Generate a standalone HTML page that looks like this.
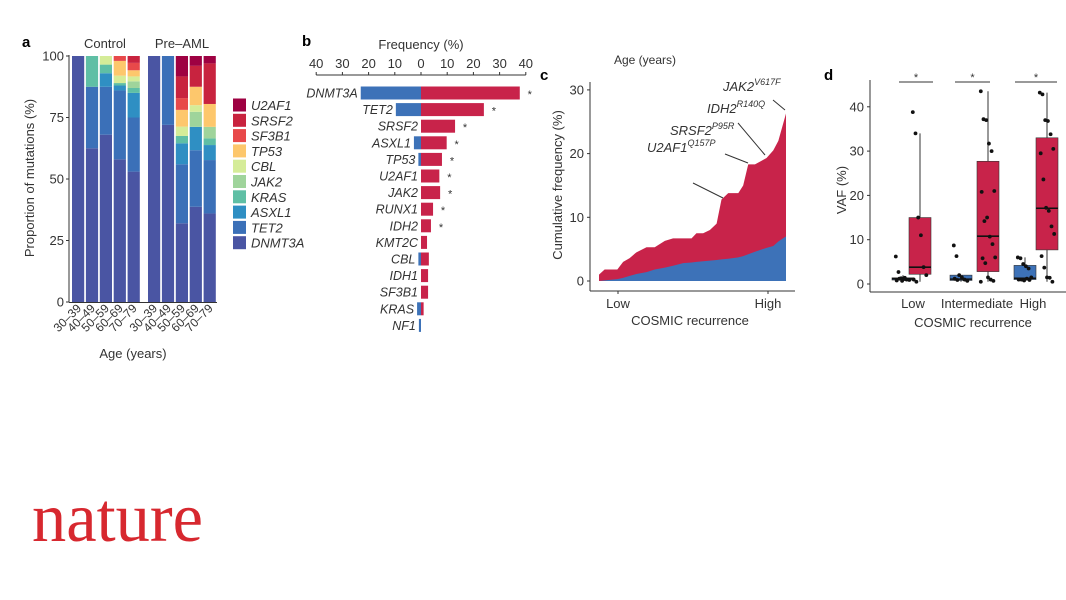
<!DOCTYPE html>
<html><head><meta charset="utf-8"><style>
html,body{margin:0;padding:0;background:#fff}
svg{display:block;font-family:"Liberation Sans",sans-serif}
</style></head><body>
<svg id="fig" width="1066" height="600" viewBox="0 0 1066 600" xmlns="http://www.w3.org/2000/svg">
<g id="pa"></g>
<g id="pb"></g>
<g id="pc"></g>
<g id="pd"></g>
<text x="32" y="541" font-family="Liberation Serif, serif" font-size="70" fill="#d7282f" textLength="171" lengthAdjust="spacingAndGlyphs">nature</text>
</svg>
<script>
// ---------- Panel a data ----------
const aGenes = ["DNMT3A","TET2","ASXL1","KRAS","JAK2","CBL","TP53","SF3B1","SRSF2","U2AF1"];
const aColors = ["#4a55a3","#3b70b8","#2f8fc3","#5fbfa5","#9fd49b","#d5ec98","#fdc76c","#e8494a","#c8233f","#9e0142"];
const aAges = ["30–39","40–49","50–59","60–69","70–79"];
const aControl = [
 [100,0,0,0,0,0,0,0,0,0],
 [62.5,25,0,12.5,0,0,0,0,0,0],
 [68,19.5,5.5,3.5,0,3.5,0,0,0,0],
 [58,28,2,1,0,3,6,2,0,0],
 [53,22,10,2,2.7,2,2.5,3,3,0]];
const aPreAML = [
 [100,0,0,0,0,0,0,0,0,0],
 [72,28,0,0,0,0,0,0,0,0],
 [32,24,8.5,3,0,3.8,6.8,4.8,8.8,8.4],
 [38.7,23,9.5,0,6.1,2.7,7.5,0,8.5,4],
 [36,21.7,6.1,2.7,4.7,0,9.3,0,16.5,3]];
const aTicks = [0,25,50,75,100];

// ---------- Panel b data ----------
const bGenes = ["DNMT3A","TET2","SRSF2","ASXL1","TP53","U2AF1","JAK2","RUNX1","IDH2","KMT2C","CBL","IDH1","SF3B1","KRAS","NF1"];
const bPreAML = [37.7,24,13,9.8,8,7,7.3,4.6,3.8,2.3,3,2.7,2.7,1,0];
const bControl = [23,9.6,0,2.7,1,0,0,0,0,0,1,0,0,1.5,0.8];
const bSig = [1,1,1,1,1,1,1,1,1,0,0,0,0,0,0];
const bTicks = [40,30,20,10,0,10,20,30,40];

// ---------- Panel c data ----------
const cRank = [0,3,9.8,12.9,16.4,20,25.4,29.8,35.2,39.6,45,49.5,52.1,55.7,59.3,62.9,65.5,69.1,74.5,77.1,79.8,83.4,89.6,93.2,95.9,100];
const cTotal = [1,1.8,1.8,3,3.6,4.5,5.3,5.3,6.3,6.7,6.7,6.7,7.5,7.5,8,9,12.8,13.8,13.8,15,18.3,18.3,19.3,20.5,22,26.3];
const cControl = [0,0.1,0.3,0.5,0.8,1.1,1.4,1.8,2.1,2.4,2.8,2.9,3,3.1,3.2,3.3,3.4,3.5,3.7,3.9,4.2,4.6,5.2,5.5,6.2,7];
const cTicks = [0,10,20,30];

// ---------- Panel d data ----------
const dGroups = ["Low","Intermediate","High"];
const dStatsControl = [[0.6,0.9,1.2,1.4,2],[0.5,0.8,1.1,2,2],[0.5,1,1.3,4.2,6]];
const dStatsPre = [[0.5,2.2,3.8,15,34],[0.5,2.8,10.8,27.7,43.5],[0.5,7.7,17.1,33,43.2]];
const dPtsControl = [[6.2,2.7,1.3,1.1,1,0.9,0.8,1.2,0.7,1.4],[8.7,6.3,2,1.5,1,0.7,1.2,0.9],[6,5.8,4.5,4,3.5,1.5,1,1,0.8,1.2,0.9]];
const dPtsPre = [[38.8,34,15,11,3.8,2,1,0.5],[43.5,37.2,37,31.7,30,21,20.8,14.2,15,10.7,9,6,5.8,4.7,1.5,1,0.7,0.5],[43.2,42.8,37,36.8,33.8,30.5,29.5,23.6,17.2,16.5,13,11.3,6.3,3.7,1.5,1.4,0.5]];
const dTicks = [0,10,20,30,40];

const NS="http://www.w3.org/2000/svg";
function mk(parent,tag,attrs,txt){const e=document.createElementNS(NS,tag);for(const k in attrs)e.setAttribute(k,attrs[k]);if(txt!==undefined)e.textContent=txt;parent.appendChild(e);return e;}
const RED="#c8234a", BLUE="#3d72b8", AX="#333";

// ===== Panel a =====
(function(){
 const g=document.getElementById('pa');
 const ay=v=>302-v*2.46;
 let t=mk(g,'text',{x:22,y:47,'font-weight':'bold','font-size':15});t.textContent='a';
 
 t=mk(g,'text',{x:105,y:48,'font-size':13,'text-anchor':'middle',fill:'#333'},'Control');
 
 t=mk(g,'text',{x:182,y:48,'font-size':13,'text-anchor':'middle',fill:'#333'},'Pre–AML');
 
 const ax=mk(g,'line',{x1:69,x2:69,y1:ay(100)-1,y2:ay(0),stroke:AX,'stroke-width':1});
 
 aTicks.forEach(v=>{mk(g,'line',{x1:66,x2:69,y1:ay(v),y2:ay(v),stroke:AX});
  const tl=mk(g,'text',{x:64,y:ay(v)+4.5,'font-size':13,'text-anchor':'end',fill:'#333'},v);
  });
 mk(g,'line',{x1:69,x2:217,y1:ay(0)+0.5,y2:ay(0)+0.5,stroke:AX});
 t=mk(g,'text',{x:0,y:0,'font-size':13,'text-anchor':'middle',fill:'#333',transform:`translate(34,178) rotate(-90)`},'Proportion of mutations (%)');
 
 t=mk(g,'text',{x:133,y:358,'font-size':13,'text-anchor':'middle',fill:'#333'},'Age (years)');
 
 function drawSet(data,x0,tag){
  data.forEach((stack,i)=>{
   const x=x0+i*13.9; let cum=0;
   stack.forEach((v,j)=>{ if(v<=0)return;
    const r=mk(g,'rect',{x:x,y:ay(Math.min(100,cum+v)),width:12.2,height:ay(cum)-ay(Math.min(100,cum+v)),fill:aColors[j]});
    
    
    cum+=v;});
   const lb=mk(g,'text',{x:0,y:0,'font-size':12,'text-anchor':'end',fill:'#333',transform:`translate(${x+10},${309}) rotate(-45)`},aAges[i]);
   
  });
 }
 drawSet(aControl,72,'control');
 drawSet(aPreAML,148,'preaml');
 for(let k=aGenes.length-1,i=0;k>=0;k--,i++){
  const y=105+i*15.3;
  const s=mk(g,'rect',{x:233,y:y-6.5,width:13,height:13,fill:aColors[k]});
  
  const l=mk(g,'text',{x:251,y:y+5,'font-size':13,'font-style':'italic',fill:'#333'},aGenes[k]);
  
 }
})();

// ===== Panel b =====
(function(){
 const g=document.getElementById('pb');
 const bx=v=>421+v*2.62;
 let t=mk(g,'text',{x:302,y:46,'font-weight':'bold','font-size':15},'b');
 
 t=mk(g,'text',{x:421,y:49,'font-size':13,'text-anchor':'middle',fill:'#333'},'Frequency (%)');
 
 const ax=mk(g,'line',{x1:bx(-40),x2:bx(40),y1:75,y2:75,stroke:AX});
 
 bTicks.forEach((v,i)=>{const val=i<4?-v:v;
  mk(g,'line',{x1:bx(val),x2:bx(val),y1:72,y2:75,stroke:AX});
  const tl=mk(g,'text',{x:bx(val),y:68,'font-size':13,'text-anchor':'middle',fill:'#333'},v);
  });
 bGenes.forEach((gn,i)=>{
  const y=93+i*16.6;
  if(bControl[i]>0){const r=mk(g,'rect',{x:bx(-bControl[i]),y:y-6.5,width:bx(0)-bx(-bControl[i]),height:13,fill:BLUE});
   }
  if(bPreAML[i]>0){const r=mk(g,'rect',{x:bx(0),y:y-6.5,width:bx(bPreAML[i])-bx(0),height:13,fill:RED});
   }
  const lx=Math.min(bx(-bControl[i]),bx(0))-3;
  const l=mk(g,'text',{x:lx,y:y+4.5,'font-size':12.5,'font-style':'italic','text-anchor':'end',fill:'#333'},gn);
  
  if(bSig[i]){const s=mk(g,'text',{x:bx(bPreAML[i])+10,y:y+5,'font-size':11,'text-anchor':'middle',fill:'#333'},'*');
   }
 });
})();

// ===== Panel c =====
(function(){
 const g=document.getElementById('pc');
 const cx=r=>599+r*1.87, cy=v=>281-v*6.37;
 let t=mk(g,'text',{x:540,y:80,'font-weight':'bold','font-size':15},'c');
 
 t=mk(g,'text',{x:645,y:64,'font-size':12,'text-anchor':'middle',fill:'#333'},'Age (years)');
 
 let d='M'+cx(cRank[0])+','+cy(0);
 cRank.forEach((r,i)=>d+=' L'+cx(r)+','+cy(cTotal[i]));
 d+=' L'+cx(cRank[cRank.length-1])+','+cy(0)+' Z';
 let p=mk(g,'path',{d:d,fill:RED});
 
 d='M'+cx(cRank[0])+','+cy(0);
 cRank.forEach((r,i)=>d+=' L'+cx(r)+','+cy(cControl[i]));
 d+=' L'+cx(cRank[cRank.length-1])+','+cy(0)+' Z';
 p=mk(g,'path',{d:d,fill:BLUE});
 
 let a=mk(g,'line',{x1:590,x2:590,y1:82,y2:291,stroke:AX});
 
 a=mk(g,'line',{x1:590,x2:795,y1:291,y2:291,stroke:AX});
 
 cTicks.forEach(v=>{mk(g,'line',{x1:587,x2:590,y1:cy(v),y2:cy(v),stroke:AX});
  const tl=mk(g,'text',{x:584,y:cy(v)+4.5,'font-size':13,'text-anchor':'end',fill:'#333'},v);
  });
 [['Low',618],['High',768]].forEach(([s,x])=>{mk(g,'line',{x1:x,x2:x,y1:291,y2:294,stroke:AX});
  const tl=mk(g,'text',{x:x,y:308,'font-size':13,'text-anchor':'middle',fill:'#333'},s);
  });
 t=mk(g,'text',{x:690,y:325,'font-size':13,'text-anchor':'middle',fill:'#333'},'COSMIC recurrence');
 
 t=mk(g,'text',{x:0,y:0,'font-size':13,'text-anchor':'middle',fill:'#333',transform:'translate(562,185) rotate(-90)'},'Cumulative frequency (%)');
 
 const ann=[['U2AF1','Q157P',647,152,693,183,723,198],['SRSF2','P95R',670,135,725,154,748,163],['IDH2','R140Q',707,113,738,123,765,155],['JAK2','V617F',723,91,773,100,785,110]];
 ann.forEach(a=>{
  const tx=mk(g,'text',{x:a[2],y:a[3],'font-size':13,'font-style':'italic',fill:'#333'});
  
  mk(tx,'tspan',{},a[0]);mk(tx,'tspan',{'font-size':9,dy:-6},a[1]);
  mk(g,'line',{x1:a[4],y1:a[5],x2:a[6],y2:a[7],stroke:'#333','stroke-width':1});
 });
})();

// ===== Panel d =====
(function(){
 const g=document.getElementById('pd');
 const dy=v=>284-v*4.43;
 const centers=[[903,920],[961,988],[1025,1047]];
 const sig=[[899,933],[955,990],[1015,1057]];
 let t=mk(g,'text',{x:824,y:80,'font-weight':'bold','font-size':15},'d');
 
 let a=mk(g,'line',{x1:870,x2:870,y1:80,y2:292,stroke:AX});
 
 a=mk(g,'line',{x1:870,x2:1066,y1:292,y2:292,stroke:AX});
 
 dTicks.forEach(v=>{mk(g,'line',{x1:867,x2:870,y1:dy(v),y2:dy(v),stroke:AX});
  const tl=mk(g,'text',{x:864,y:dy(v)+4.5,'font-size':13,'text-anchor':'end',fill:'#333'},v);
  });
 t=mk(g,'text',{x:0,y:0,'font-size':13,'text-anchor':'middle',fill:'#333',transform:'translate(846,190) rotate(-90)'},'VAF (%)');
 
 const lblX=[913,977,1033];
 dGroups.forEach((gr,i)=>{
  const tl=mk(g,'text',{x:lblX[i],y:308,'font-size':13,'text-anchor':'middle',fill:'#333'},gr);
  
  const sl=mk(g,'line',{x1:sig[i][0],x2:sig[i][1],y1:82,y2:82,stroke:'#333'});
  
  const st=mk(g,'text',{x:(sig[i][0]+sig[i][1])/2,y:81,'font-size':11,'text-anchor':'middle',fill:'#333'},'*');
  
  [[dStatsControl[i],dPtsControl[i],BLUE,'control'],[dStatsPre[i],dPtsPre[i],RED,'preaml']].forEach((s,k)=>{
   const c=centers[i][k], st5=s[0], w=22;
   mk(g,'line',{x1:c,x2:c,y1:dy(st5[0]),y2:dy(st5[4]),stroke:'#333'});
   const b=mk(g,'rect',{x:c-w/2,y:dy(st5[3]),width:w,height:Math.max(1,dy(st5[1])-dy(st5[3])),fill:s[2],stroke:'#333','stroke-width':0.6});
   
   mk(g,'line',{x1:c-w/2,x2:c+w/2,y1:dy(st5[2]),y2:dy(st5[2]),stroke:'#111','stroke-width':1.6});
   s[1].forEach((v,j)=>{
    const off=((j*37)%17-8)*0.9;
    const pt=mk(g,'circle',{cx:c+off,cy:dy(v),r:1.9,fill:'#111'});
    
   });
  });
 });
 t=mk(g,'text',{x:973,y:327,'font-size':13,'text-anchor':'middle',fill:'#333'},'COSMIC recurrence');
 
})();
</script>
</body></html>
